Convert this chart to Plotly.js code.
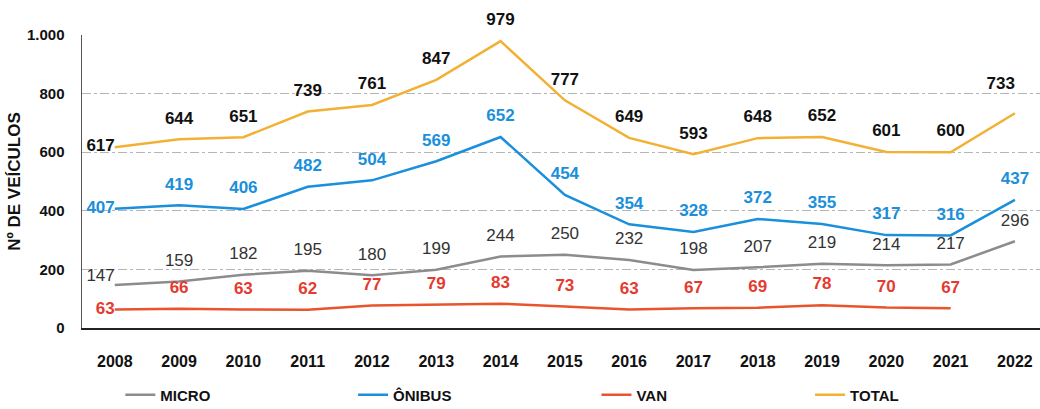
<!DOCTYPE html>
<html><head><meta charset="utf-8">
<script src="https://cdn.plot.ly/plotly-3.0.1.min.js"></script>
<style>html,body{margin:0;padding:0;background:#fff}#chart{width:1040px;height:409px}</style>
</head><body><div id="chart"></div>
<script>
const years = ['2008','2009','2010','2011','2012','2013','2014','2015','2016','2017','2018','2019','2020','2021','2022'];
const micro  = [147,159,182,195,180,199,244,250,232,198,207,219,214,217,296];
const onibus = [407,419,406,482,504,569,652,454,354,328,372,355,317,316,437];
const van    = [63,66,63,62,77,79,83,73,63,67,69,78,70,67,null];
const total  = [617,644,651,739,761,847,979,777,649,593,648,652,601,600,733];
const yTicks = [0,200,400,600,800,1000];

const F = 'Liberation Sans, Arial, sans-serif';
const series = [
  {name:'MICRO',  y:micro,  line:'#8c8c8c', tc:'#333333', bold:false, legend:'legend',  lx:0.040, firstPos:'top left'},
  {name:'ÔNIBUS', y:onibus, line:'#1a8fdc', tc:'#1a8fdc', bold:true,  legend:'legend2', lx:0.283, firstPos:'middle left'},
  {name:'VAN',    y:van,    line:'#e8552c', tc:'#e53a2f', bold:true,  legend:'legend3', lx:0.537, firstPos:'middle left'},
  {name:'TOTAL',  y:total,  line:'#f2b134', tc:'#111111', bold:true,  legend:'legend4', lx:0.760, firstPos:'middle left'}
];

function positions(name){
  return years.map((_,i)=> (name==='TOTAL' && i===14) ? 'top left' : 'middle center');
}

const lineTraces = series.map(s=>({
  name:s.name, x:years, y:s.y, mode:'lines', legend:s.legend,
  line:{color:s.line, width:2.5}, cliponaxis:false
}));
// labels raised above the points (via the hidden, shifted axis y2 of same scale), first year excluded
const textTraces = series.map(s=>({
  name:s.name+' labels', x:years.slice(1), y:s.y.slice(1), xaxis:'x', yaxis:'y2', mode:'text', showlegend:false,
  text:s.y.slice(1).map(v=> v===null ? '' : String(v)), textposition:positions(s.name).slice(1),
  textfont:{family:F, size:17, color:s.tc, weight:s.bold?'bold':'normal'}, cliponaxis:false
}));
// first-year labels, beside the first point
const firstTraces = series.map(s=>({
  name:s.name+' first', x:years.slice(0,1), y:s.y.slice(0,1), mode:'text', showlegend:false,
  text:[String(s.y[0])], textposition:s.firstPos,
  textfont:{family:F, size:17, color:s.tc, weight:s.bold?'bold':'normal'}, cliponaxis:false
}));

const legendBase = (x)=>({orientation:'h', x:x, xanchor:'left', y:-0.2074, yanchor:'middle',
  bgcolor:'rgba(0,0,0,0)', itemwidth:30, font:{family:F, size:15, color:'#111', weight:'bold'}});

const layout = {
  width:1040, height:409,
  margin:{l:82, r:0, t:5, b:81, autoexpand:false},
  paper_bgcolor:'#fff', plot_bgcolor:'rgba(0,0,0,0)',
  separators:',.',
  font:{family:F, color:'#111'},
  showlegend:true,
  legend:legendBase(series[0].lx),
  legend2:legendBase(series[1].lx),
  legend3:legendBase(series[2].lx),
  legend4:legendBase(series[3].lx),
  xaxis:{type:'category', range:[-0.51, 14.39], showgrid:false, zeroline:false, automargin:false,
         anchor:'y', showline:true, linecolor:'#222', linewidth:2, ticks:'', ticklabelstandoff:18,
         tickfont:{family:F, size:16, color:'#111', weight:'bold'}},
  yaxis:{domain:[0, 0.9071], range:[0,1000], tickvals:yTicks, tickformat:',d', showgrid:true, gridcolor:'#b5b5b5', automargin:true,
         griddash:'dashdot', gridwidth:1, zeroline:false, showline:true, linecolor:'#555', linewidth:1.5,
         ticks:'', ticklabelstandoff:13, anchor:'x',
         tickfont:{family:F, size:15, color:'#111', weight:'bold'},
         title:{text:'Nº DE VEÍCULOS', standoff:2, font:{family:F, size:17, color:'#111', weight:'bold'}}},
  yaxis2:{domain:[0,1], anchor:'x', range:[-68, 1034], visible:false, showgrid:false, zeroline:false, fixedrange:true}
};
Plotly.newPlot('chart', lineTraces.concat(textTraces, firstTraces), layout, {displayModeBar:false, staticPlot:true});
</script></body></html>
